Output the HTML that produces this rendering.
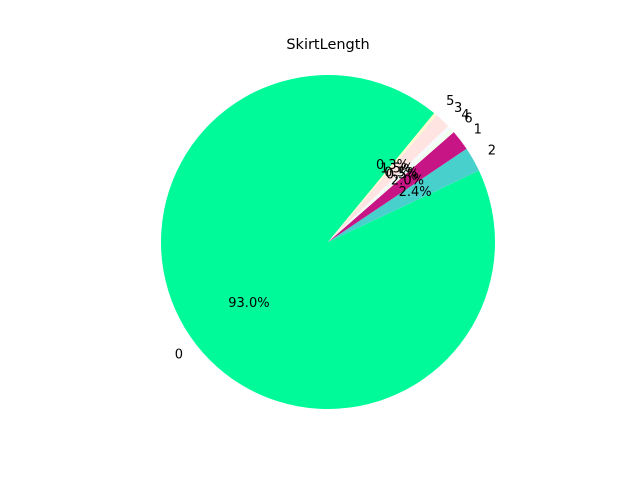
<!DOCTYPE html>
<html><head><meta charset="utf-8"><style>
body{margin:0;background:#fff;}
svg{display:block;font-family:"DejaVu Sans","Liberation Sans",sans-serif;}
</style></head><body>
<svg id="chart" width="640" height="480" viewBox="0 0 640 480">
<rect width="640" height="480" fill="#fff"/>
<text x="328" y="49" text-anchor="middle" font-size="14.5" fill="#000">SkirtLength</text>
<g id="slices"></g>
<g id="labels"></g>
</svg>
<script>
const categories = ["0", "2", "1", "6", "4", "3", "5"];
const values = [93.0, 2.4, 2.0, 0.5, 0.3, 1.5, 0.3];
const pctLabels = ["93.0%", "2.4%", "2.0%", "0.5%", "0.3%", "1.5%", "0.3%"];
const colors = ["#00fa9a", "#48d1cc", "#c71585", "#f0fff0", "#f8f8ff", "#ffe4e1", "#fffacd"];
const cx = 328, cy = 242, r = 167, startAngle = 50.5;
const NS = "http://www.w3.org/2000/svg";
const total = values.reduce((a, b) => a + b, 0);
const gs = document.getElementById('slices'), gl = document.getElementById('labels');
function pt(deg, rad) { const a = deg * Math.PI / 180; return [cx + rad * Math.cos(a), cy - rad * Math.sin(a)]; }
let ang = startAngle;
values.forEach((v, i) => {
  const sweep = v / total * 360;
  const a0 = ang, a1 = ang + sweep, mid = ang + sweep / 2;
  const p0 = pt(a0, r), p1 = pt(a1, r);
  const large = sweep > 180 ? 1 : 0;
  const path = document.createElementNS(NS, 'path');
  path.setAttribute('d', `M${cx},${cy} L${p0[0]},${p0[1]} A${r},${r} 0 ${large} 0 ${p1[0]},${p1[1]} Z`);
  path.setAttribute('fill', colors[i]);
  
  
  gs.appendChild(path);
  const lp = pt(mid, r * 1.1);
  const t = document.createElementNS(NS, 'text');
  const c = Math.cos(mid * Math.PI / 180);
  t.setAttribute('x', lp[0]); t.setAttribute('y', lp[1] + 3.5);
  t.setAttribute('text-anchor', c >= 0 ? 'start' : 'end');
  t.setAttribute('font-size', '13');
  t.textContent = categories[i];
  
  
  gl.appendChild(t);
  const pp = pt(mid, r * 0.6);
  const t2 = document.createElementNS(NS, 'text');
  t2.setAttribute('x', pp[0]); t2.setAttribute('y', pp[1] + 3.5);
  t2.setAttribute('text-anchor', 'middle');
  t2.setAttribute('font-size', '13');
  t2.textContent = pctLabels[i];
  
  
  gl.appendChild(t2);
  ang = a1;
});
</script>
</body></html>
